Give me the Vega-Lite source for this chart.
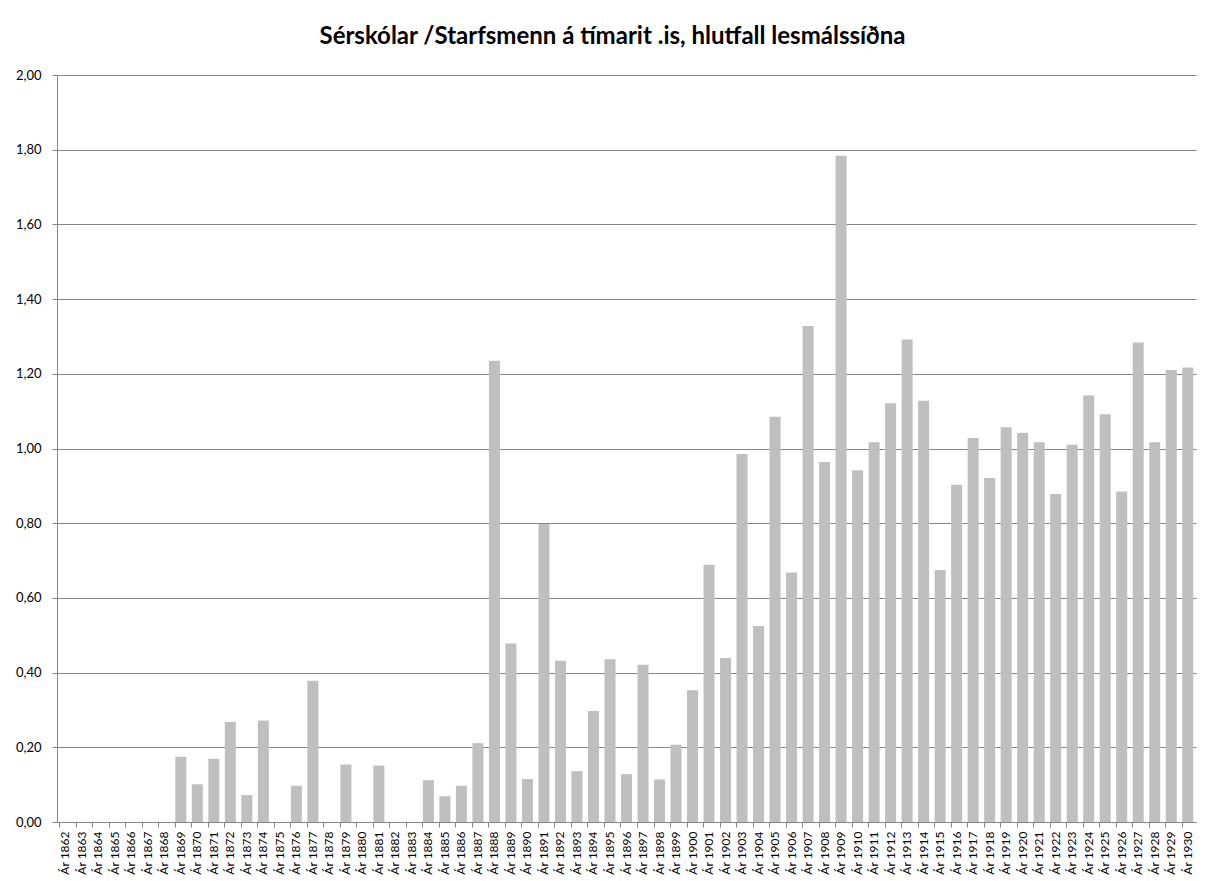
{
  "$schema": "https://vega.github.io/schema/vega-lite/v6.json",
  "autosize": "none",
  "width": 1139,
  "height": 747,
  "padding": {"left": 57, "top": 75, "right": 10, "bottom": 59},
  "background": "white",
  "title": {
    "text": "Sérskólar /Starfsmenn á tímarit .is, hlutfall lesmálssíðna",
    "font": "Lato",
    "fontSize": 24,
    "fontWeight": "bold",
    "color": "#000000",
    "anchor": "middle",
    "dx": -14,
    "offset": 20
  },
  "data": {
    "values": [
      {"ar": "Ár 1862", "v": 0},
      {"ar": "Ár 1863", "v": 0},
      {"ar": "Ár 1864", "v": 0},
      {"ar": "Ár 1865", "v": 0},
      {"ar": "Ár 1866", "v": 0},
      {"ar": "Ár 1867", "v": 0},
      {"ar": "Ár 1868", "v": 0},
      {"ar": "Ár 1869", "v": 0.175},
      {"ar": "Ár 1870", "v": 0.101},
      {"ar": "Ár 1871", "v": 0.169},
      {"ar": "Ár 1872", "v": 0.268},
      {"ar": "Ár 1873", "v": 0.072},
      {"ar": "Ár 1874", "v": 0.272},
      {"ar": "Ár 1875", "v": 0},
      {"ar": "Ár 1876", "v": 0.097},
      {"ar": "Ár 1877", "v": 0.378},
      {"ar": "Ár 1878", "v": 0},
      {"ar": "Ár 1879", "v": 0.154},
      {"ar": "Ár 1880", "v": 0},
      {"ar": "Ár 1881", "v": 0.151},
      {"ar": "Ár 1882", "v": 0},
      {"ar": "Ár 1883", "v": 0},
      {"ar": "Ár 1884", "v": 0.112},
      {"ar": "Ár 1885", "v": 0.069},
      {"ar": "Ár 1886", "v": 0.097},
      {"ar": "Ár 1887", "v": 0.211},
      {"ar": "Ár 1888", "v": 1.235},
      {"ar": "Ár 1889", "v": 0.478},
      {"ar": "Ár 1890", "v": 0.115},
      {"ar": "Ár 1891", "v": 0.798},
      {"ar": "Ár 1892", "v": 0.432},
      {"ar": "Ár 1893", "v": 0.136},
      {"ar": "Ár 1894", "v": 0.297},
      {"ar": "Ár 1895", "v": 0.436},
      {"ar": "Ár 1896", "v": 0.128},
      {"ar": "Ár 1897", "v": 0.421},
      {"ar": "Ár 1898", "v": 0.114},
      {"ar": "Ár 1899", "v": 0.207},
      {"ar": "Ár 1900", "v": 0.353},
      {"ar": "Ár 1901", "v": 0.689},
      {"ar": "Ár 1902", "v": 0.439},
      {"ar": "Ár 1903", "v": 0.985},
      {"ar": "Ár 1904", "v": 0.525},
      {"ar": "Ár 1905", "v": 1.085},
      {"ar": "Ár 1906", "v": 0.668},
      {"ar": "Ár 1907", "v": 1.328},
      {"ar": "Ár 1908", "v": 0.964},
      {"ar": "Ár 1909", "v": 1.784},
      {"ar": "Ár 1910", "v": 0.942},
      {"ar": "Ár 1911", "v": 1.017},
      {"ar": "Ár 1912", "v": 1.121},
      {"ar": "Ár 1913", "v": 1.292},
      {"ar": "Ár 1914", "v": 1.128},
      {"ar": "Ár 1915", "v": 0.675},
      {"ar": "Ár 1916", "v": 0.903},
      {"ar": "Ár 1917", "v": 1.028},
      {"ar": "Ár 1918", "v": 0.921},
      {"ar": "Ár 1919", "v": 1.057},
      {"ar": "Ár 1920", "v": 1.042},
      {"ar": "Ár 1921", "v": 1.017},
      {"ar": "Ár 1922", "v": 0.878},
      {"ar": "Ár 1923", "v": 1.010},
      {"ar": "Ár 1924", "v": 1.142},
      {"ar": "Ár 1925", "v": 1.092},
      {"ar": "Ár 1926", "v": 0.885},
      {"ar": "Ár 1927", "v": 1.284},
      {"ar": "Ár 1928", "v": 1.017},
      {"ar": "Ár 1929", "v": 1.210},
      {"ar": "Ár 1930", "v": 1.217}
    ]
  },
  "mark": {"type": "bar", "color": "#BFBFBF"},
  "encoding": {
    "x": {
      "field": "ar",
      "type": "ordinal",
      "sort": null,
      "scale": {"paddingInner": 0.333, "paddingOuter": 0.167},
      "axis": {
        "title": null,
        "labelAngle": -90,
        "labelFont": "Lato",
        "labelFontSize": 12,
        "labelColor": "#000000",
        "labelPadding": 4,
        "tickSize": 5,
        "bandPosition": 0,
        "tickColor": "#868686",
        "domainColor": "#868686",
        "labelOverlap": false,
        "grid": false
      }
    },
    "y": {
      "field": "v",
      "type": "quantitative",
      "scale": {"domain": [0, 2], "nice": false},
      "axis": {
        "title": null,
        "values": [0, 0.2, 0.4, 0.6, 0.8, 1.0, 1.2, 1.4, 1.6, 1.8, 2.0],
        "labelExpr": "replace(format(datum.value, '.2f'), '.', ',')",
        "labelFont": "Lato",
        "labelFontSize": 13,
        "labelColor": "#000000",
        "labelPadding": 11,
        "tickSize": 5,
        "tickColor": "#868686",
        "domainColor": "#868686",
        "grid": true,
        "gridColor": "#868686",
        "gridOpacity": 1
      }
    }
  },
  "config": {
    "view": {"stroke": null}
  }
}
